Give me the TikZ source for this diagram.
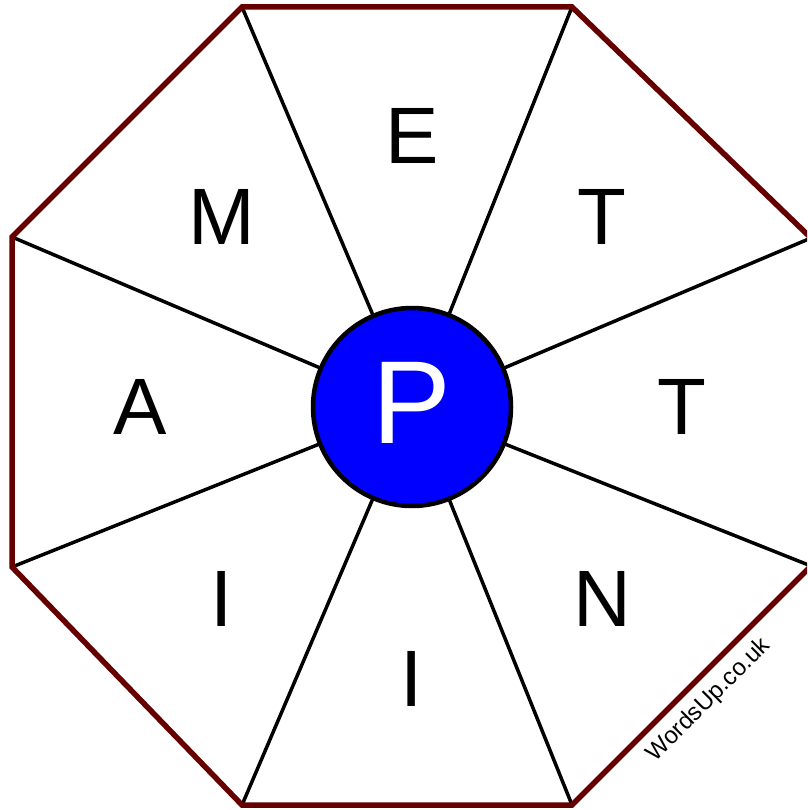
\documentclass[tikz,border=0pt]{standalone}
\usepackage{fontspec}
\setmainfont{Liberation Sans}
\begin{document}
\begin{tikzpicture}[x=1pt,y=-1pt,
  spoke/.style={line width=3.5pt,black},
  rim/.style={line width=5.5pt,draw={rgb,255:red,102;green,0;blue,0},line join=miter},
  letter/.style={font=\fontsize{80}{80}\selectfont,inner sep=0pt,anchor=base},
]
\useasboundingbox (0,0) rectangle (807,810);
\begin{scope}
\clip (0,0) rectangle (807,810);
\coordinate (v1) at (242,7);
\coordinate (v2) at (572,7);
\coordinate (v3) at (811,238);
\coordinate (v4) at (811,566);
\coordinate (v5) at (572,805);
\coordinate (v6) at (242,805);
\coordinate (v7) at (12,567);
\coordinate (v8) at (12,237);
\node[circle,minimum size=200pt,inner sep=0pt] (c) at (412,407) {};
\foreach \i in {1,...,8} \draw[spoke] (c) -- (v\i);
\draw[rim] (v1) -- (v2) -- (v3) -- (v4) -- (v5) -- (v6) -- (v7) -- (v8) -- cycle;
\end{scope}
\node[circle,draw=black,line width=4.5pt,fill={rgb,255:red,0;green,0;blue,255},minimum size=198pt,inner sep=0pt] (cc) at (412,407) {};
\node[letter,text=white,font=\fontsize{118}{118}\selectfont] (lp) at (412,443) {P};
\node[letter] (l1) at (412,164) {E};
\node[letter] (l2) at (602,244) {T};
\node[letter] (l3) at (682,434) {T};
\node[letter] (l4) at (602,626) {N};
\node[letter] (l5) at (412,706) {I};
\node[letter] (l6) at (222,626) {I};
\node[letter] (l7) at (140,434) {A};
\node[letter] (l8) at (222,244) {M};
\node[rotate=45,font=\fontsize{24}{24}\selectfont,inner sep=0pt] (wm) at (709,700) {WordsUp.co.uk};
\end{tikzpicture}
\end{document}
